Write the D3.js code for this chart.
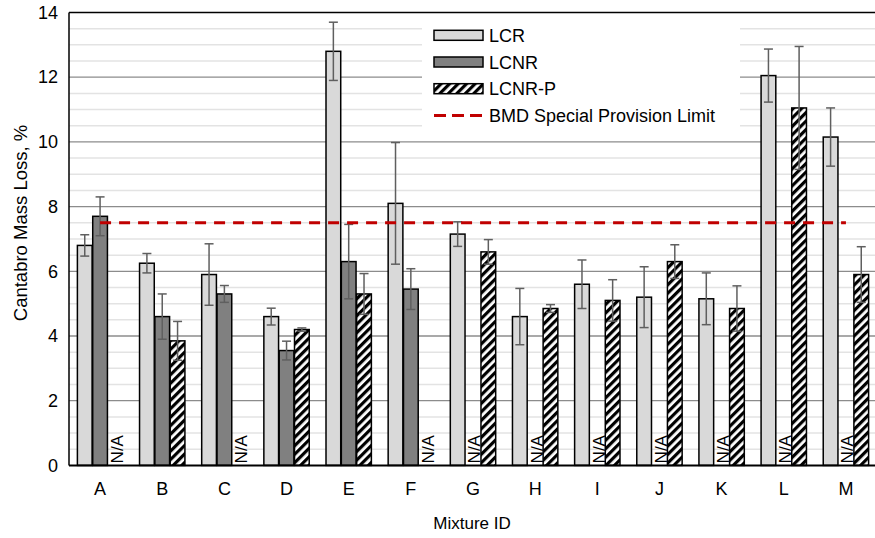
<!DOCTYPE html>
<html>
<head>
<meta charset="utf-8">
<script src="https://cdn.jsdelivr.net/npm/d3@7"></script>
<style>
    body { margin: 0; background: #fff; }
    svg { display: block; font-family: "Liberation Sans", Arial, sans-serif; }
</style>
</head>
<body>
<div id="chart-container"></div>
<script>
// mixture ids
var CATEGORIES = ["A", "B", "C", "D", "E", "F", "G", "H", "I", "J", "K", "L", "M"];
// series names
var SERIES = ["LCR", "LCNR", "LCNR-P"];
// mean cantabro mass loss, % (null = N/A)
var LCR_VALUES = [6.8, 6.25, 5.9, 4.6, 12.8, 8.1, 7.15, 4.6, 5.6, 5.2, 5.15, 12.05, 10.15];
var LCNR_VALUES = [7.7, 4.6, 5.3, 3.55, 6.3, 5.45, null, null, null, null, null, null, null];
var LCNRP_VALUES = [null, 3.85, null, 4.2, 5.3, null, 6.6, 4.85, 5.1, 6.3, 4.85, 11.05, 5.9];
// error bar half lengths
var LCR_ERRORS = [0.33, 0.3, 0.95, 0.26, 0.9, 1.88, 0.38, 0.87, 0.75, 0.94, 0.8, 0.82, 0.9];
var LCNR_ERRORS = [0.6, 0.7, 0.26, 0.29, 1.15, 0.63, null, null, null, null, null, null, null];
var LCNRP_ERRORS = [null, 0.6, null, 0.05, 0.63, null, 0.38, 0.12, 0.64, 0.52, 0.7, 1.9, 0.86];
// y axis ticks
var Y_TICKS = [0, 2, 4, 6, 8, 10, 12, 14];
// special provision limit
var LIMIT_VALUE = 7.5;
var LIMIT_LABEL = "BMD Special Provision Limit";

function drawChart() {
    var width = 875, height = 538;
    var plot = { left: 69, right: 877, top: 12.5, bottom: 465.4 };

    var svg = d3.select("#chart-container")
        .append("svg")
        .attr("width", width)
        .attr("height", height);

    // hatch pattern for LCNR-P
    var defs = svg.append("defs");
    var hatch = defs.append("pattern")
        .attr("id", "hatch")
        .attr("patternUnits", "userSpaceOnUse")
        .attr("width", 6)
        .attr("height", 6)
        .attr("patternTransform", "rotate(45)");
    hatch.append("rect").attr("width", 6).attr("height", 6).attr("fill", "#fff");
    hatch.append("rect").attr("width", 3.2).attr("height", 6).attr("fill", "#000");

    // build rows from arrays
    var valuesBySeries = [LCR_VALUES, LCNR_VALUES, LCNRP_VALUES];
    var errorsBySeries = [LCR_ERRORS, LCNR_ERRORS, LCNRP_ERRORS];
    var fills = { "LCR": "#d9d9d9", "LCNR": "#808080", "LCNR-P": "url(#hatch)" };
    var rows = [];
    CATEGORIES.forEach(function (cat, i) {
        SERIES.forEach(function (s, j) {
            rows.push({ cat: cat, series: s, value: valuesBySeries[j][i], err: errorsBySeries[j][i] });
        });
    });

    // scales
    var x0 = d3.scaleBand()
        .domain(CATEGORIES)
        .range([plot.left, plot.right])
        .paddingInner(0.27)
        .paddingOuter(0.135);
    var x1 = d3.scaleBand()
        .domain(SERIES)
        .range([0, x0.bandwidth()])
        .paddingInner(0.04);
    var y = d3.scaleLinear()
        .domain([0, 14])
        .range([plot.bottom, plot.top]);

    // minor gridlines every 0.5
    var minor = d3.range(0.5, 14, 0.5).filter(function (v) { return v % 2 !== 0; });
    svg.append("g")
        .selectAll("line")
        .data(minor)
        .enter()
        .append("line")
        .attr("x1", plot.left).attr("x2", width)
        .attr("y1", function (d) { return y(d); })
        .attr("y2", function (d) { return y(d); })
        .attr("stroke", "#e3e3e3")
        .attr("stroke-width", 1.5);

    // major gridlines
    svg.append("g")
        .selectAll("line")
        .data(Y_TICKS.filter(function (d) { return d > 0 && d < 14; }))
        .enter()
        .append("line")
        .attr("x1", plot.left).attr("x2", width)
        .attr("y1", function (d) { return y(d); })
        .attr("y2", function (d) { return y(d); })
        .attr("stroke", "#8c8c8c")
        .attr("stroke-width", 1.3);

    // legend background hides gridlines
    var legend = { x: 422, y: 13, w: 318, h: 122 };
    svg.append("rect")
        .attr("x", legend.x).attr("y", legend.y)
        .attr("width", legend.w).attr("height", legend.h)
        .attr("fill", "#fff");

    // bars
    var present = rows.filter(function (d) { return d.value !== null; });
    svg.append("g")
        .selectAll("rect")
        .data(present)
        .enter()
        .append("rect")
        .attr("x", function (d) { return x0(d.cat) + x1(d.series); })
        .attr("y", function (d) { return y(d.value); })
        .attr("width", x1.bandwidth())
        .attr("height", function (d) { return y(0) - y(d.value); })
        .attr("fill", function (d) { return fills[d.series]; })
        .attr("stroke", "#000")
        .attr("stroke-width", 1.5);

    // error bars
    var errG = svg.append("g")
        .attr("stroke", "#5f5f5f")
        .attr("stroke-width", 1.5);
    present.forEach(function (d) {
        var cx = x0(d.cat) + x1(d.series) + x1.bandwidth() / 2;
        var top = y(d.value + d.err), bot = y(d.value - d.err);
        errG.append("line").attr("x1", cx).attr("x2", cx).attr("y1", top).attr("y2", bot);
        errG.append("line").attr("x1", cx - 4.5).attr("x2", cx + 4.5).attr("y1", top).attr("y2", top);
        errG.append("line").attr("x1", cx - 4.5).attr("x2", cx + 4.5).attr("y1", bot).attr("y2", bot);
    });

    // N/A labels
    svg.append("g")
        .selectAll("text")
        .data(rows.filter(function (d) { return d.value === null; }))
        .enter()
        .append("text")
        .attr("transform", function (d) {
            return "translate(" + (x0(d.cat) + x1(d.series) + x1.bandwidth()) + "," + (y(0) - 2) + ") rotate(-90)";
        })
        .attr("font-size", "17px")
        .attr("fill", "#000")
        .text("N/A");

    // special provision limit line
    svg.append("line")
        .attr("x1", x0(CATEGORIES[0]) + x0.bandwidth() / 2)
        .attr("x2", x0(CATEGORIES[CATEGORIES.length - 1]) + x0.bandwidth() / 2)
        .attr("y1", y(LIMIT_VALUE))
        .attr("y2", y(LIMIT_VALUE))
        .attr("stroke", "#c00000")
        .attr("stroke-width", 3)
        .attr("stroke-dasharray", "11,8");

    // axes lines (plot frame)
    svg.append("line")
        .attr("x1", plot.left).attr("x2", width)
        .attr("y1", plot.top).attr("y2", plot.top)
        .attr("stroke", "#000").attr("stroke-width", 1.5);
    svg.append("line")
        .attr("x1", plot.left).attr("x2", plot.left)
        .attr("y1", plot.top).attr("y2", plot.bottom)
        .attr("stroke", "#000").attr("stroke-width", 1.5);
    svg.append("line")
        .attr("x1", plot.left).attr("x2", width)
        .attr("y1", plot.bottom).attr("y2", plot.bottom)
        .attr("stroke", "#000").attr("stroke-width", 2);

    // y axis tick labels
    var yAxis = svg.append("g")
        .attr("transform", "translate(" + plot.left + ",0)")
        .call(d3.axisLeft(y).tickValues(Y_TICKS).tickSize(0).tickPadding(11));
    yAxis.select(".domain").remove();
    yAxis.selectAll("text")
        .attr("font-size", "18px")
        .attr("font-family", "Liberation Sans, Arial, sans-serif")
        .attr("fill", "#000");

    // x axis labels
    var xAxis = svg.append("g")
        .attr("transform", "translate(0," + plot.bottom + ")")
        .call(d3.axisBottom(x0).tickSize(0).tickPadding(17));
    xAxis.select(".domain").remove();
    xAxis.selectAll("text")
        .attr("font-size", "18px")
        .attr("font-family", "Liberation Sans, Arial, sans-serif")
        .attr("fill", "#000");

    // axis titles
    svg.append("text")
        .attr("x", 472).attr("y", 529)
        .attr("text-anchor", "middle")
        .attr("font-size", "17px")
        .text("Mixture ID");
    svg.append("text")
        .attr("transform", "translate(27,223) rotate(-90)")
        .attr("text-anchor", "middle")
        .attr("font-size", "18.5px")
        .text("Cantabro Mass Loss, %");

    // legend entries
    var legendItems = SERIES.concat([LIMIT_LABEL]);
    var item = svg.append("g")
        .selectAll("g")
        .data(legendItems)
        .enter()
        .append("g")
        .attr("transform", function (d, i) { return "translate(434," + (35.3 + i * 26.7) + ")"; });
    item.filter(function (d, i) { return i < 3; })
        .append("rect")
        .attr("x", 0).attr("y", -5)
        .attr("width", 49).attr("height", 10)
        .attr("fill", function (d) { return fills[d]; })
        .attr("stroke", "#000")
        .attr("stroke-width", 1.5);
    item.filter(function (d, i) { return i === 3; })
        .append("line")
        .attr("x1", 0).attr("x2", 49)
        .attr("y1", 0).attr("y2", 0)
        .attr("stroke", "#c00000")
        .attr("stroke-width", 3)
        .attr("stroke-dasharray", "12,6");
    item.append("text")
        .attr("x", 55).attr("y", 6.5)
        .attr("font-size", "18px")
        .attr("fill", "#000")
        .text(function (d) { return d; });
}

window.onload = function () {
    drawChart();
};
</script>
</body>
</html>
